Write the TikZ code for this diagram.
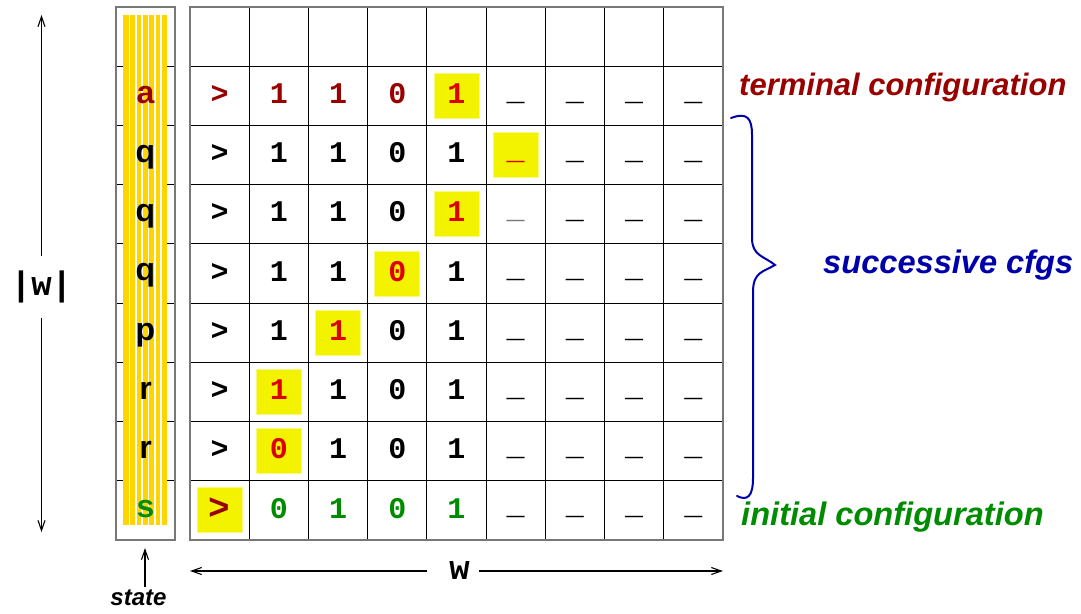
\documentclass[tikz,border=0pt]{standalone}
\usepackage{fontspec}
\setmainfont{Liberation Sans}
\newfontfamily\monof{Liberation Mono}
\newfontfamily\sansbf{Liberation Sans Bold}
\usetikzlibrary{arrows.meta}
\definecolor{dred}{RGB}{153,0,0}
\definecolor{hred}{RGB}{221,0,0}
\definecolor{dgreen}{RGB}{0,140,0}
\definecolor{dblue}{RGB}{0,0,170}
\definecolor{hlyellow}{RGB}{243,243,0}
\definecolor{stripegold}{RGB}{255,213,0}
\definecolor{framegray}{RGB}{120,120,120}
\definecolor{usgray}{RGB}{120,120,120}
\newcommand\tmcell[6]{%
  \pgfmathsetmacro\xc{190+59.22*(#2+0.5)}%
  \pgfmathsetmacro\yc{7+59.22*(#1+0.5)+#6}%
  \ifnum#5>0 \node[hlbox] (h-#1-#2) at (\xc,{7+59.22*(#1+0.5)}) {};\fi
  \ifnum#5=2
    \node[cell, text=#4, font=\monof\bfseries\fontsize{36}{40}\selectfont] (c-#1-#2) at (\xc,\yc+1.3) {#3};
  \else
    \node[cell, text=#4] (c-#1-#2) at (\xc,\yc) {#3};
  \fi
}
\begin{document}
\begin{tikzpicture}[x=1pt,y=-1pt,
  cell/.style={anchor=base, inner sep=0pt, font=\monof\bfseries\fontsize{30}{36}\selectfont},
  stl/.style={anchor=base, inner sep=0pt, font=\sansbf\fontsize{32}{36}\selectfont},
  lab/.style={anchor=base west, inner sep=0pt, font=\bfseries\itshape\fontsize{32.6}{38}\selectfont},
  arr/.style={line width=1.1pt, -{Straight Barb[length=10pt,width=7pt]}},
  gridline/.style={line width=1pt, draw=black},
  framel/.style={line width=1.6pt, draw=framegray},
  hlbox/.style={fill=hlyellow, draw=hlyellow!50!white, line width=0.8pt, minimum size=45pt, inner sep=0pt},
  wlab/.style={font=\monof\bfseries\fontsize{34}{40}\selectfont, inner sep=0pt}
]
\useasboundingbox (0,0) rectangle (1081,613);
\clip (0,0) rectangle (1081,613);

% state column
\foreach \k in {1,...,8} \draw[gridline] (116,{7+59.22*\k}) -- (175,{7+59.22*\k});
\fill[stripegold] (123.3,15) rectangle (166.7,525);
\foreach \k in {0,...,5} \draw[white, line width=1.6pt] ({129.5+6.3*\k},15) -- ({129.5+6.3*\k},525);
\draw[framel] (116,7) rectangle (175,540);

% tape grid
\foreach \k in {1,...,8} {
  \draw[gridline] (190,{7+59.22*\k}) -- (723,{7+59.22*\k});
  \draw[gridline] ({190+59.22*\k},7) -- ({190+59.22*\k},540);
}
\draw[framel] (190,7) rectangle (723,540);

% rows
\foreach \r/\st/\sc/\dA/\rc/\h/\hm/\hc in {
  1/a/dred/1/dred/4/1/hred,
  2/q/black/1/black/5/1/hred,
  3/q/black/1/black/4/1/hred,
  4/q/black/1/black/3/1/hred,
  5/p/black/1/black/2/1/hred,
  6/r/black/1/black/1/1/hred,
  7/r/black/0/black/1/1/hred,
  8/s/dgreen/0/dgreen/0/2/dred}
{
  \pgfmathsetmacro\ys{7+59.22*(\r+0.5)+7.5}
  \node[stl, text=\sc] (s-\r) at (145.5,\ys) {\st};
  \foreach \s [count=\c from 0] in {>,\dA,1,0,1} {
    \ifnum\c=\h\relax \tmcell{\r}{\c}{\s}{\hc}{\hm}{7.7}\else \tmcell{\r}{\c}{\s}{\rc}{0}{7.7}\fi
  }
  \foreach \c in {5,...,8} {
    \ifnum\c=\h\relax \tmcell{\r}{\c}{\_}{hred}{1}{4.5}%
    \else\ifnum\numexpr\r*10+\c\relax=35 \tmcell{\r}{\c}{\_}{usgray}{0}{4.5}%
    \else \tmcell{\r}{\c}{\_}{black}{0}{4.5}\fi\fi
  }
}

% |w| arrow
\node[wlab, minimum height=61pt] (wv) at (41.5,287) {|w|};
\coordinate (wtop) at (41.5,15);
\coordinate (wbot) at (41.5,532);
\draw[arr] (wv) -- (wtop);
\draw[arr] (wv) -- (wbot);

% w arrow
\node[wlab] (wh) at (459.5,571) {w};
\coordinate (al) at (190,571);
\coordinate (ar) at (723,571);
\draw[arr] ([xshift=-22pt]wh.west) -- (al);
\draw[arr] ([xshift=9pt]wh.east) -- (ar);

% state label
\node[anchor=base, inner sep=2pt, font=\bfseries\itshape\fontsize{24}{28}\selectfont] (statel) at (138.5,605) {state};
\coordinate (stip) at (145,548);
\draw[arr] (statel.north -| stip) -- (stip);

% brace
\draw[dblue, line width=2pt, line cap=round]
  (731,118) .. controls (747,112) and (752,118) .. (752,135)
  -- (752,238) .. controls (752,256) and (764,256) .. (775,265)
  .. controls (763,272) and (753,272) .. (753,292)
  -- (753,478) .. controls (753,497) and (747,501) .. (737,496);

% labels
\node[lab, text=dred, font=\bfseries\itshape\fontsize{31}{36}\selectfont] (term) at (739,95) {terminal configuration};
\node[lab, text=dblue] (succ) at (823,273) {successive cfgs};
\node[lab, text=dgreen] (init) at (741,525) {initial configuration};
\end{tikzpicture}
\end{document}
